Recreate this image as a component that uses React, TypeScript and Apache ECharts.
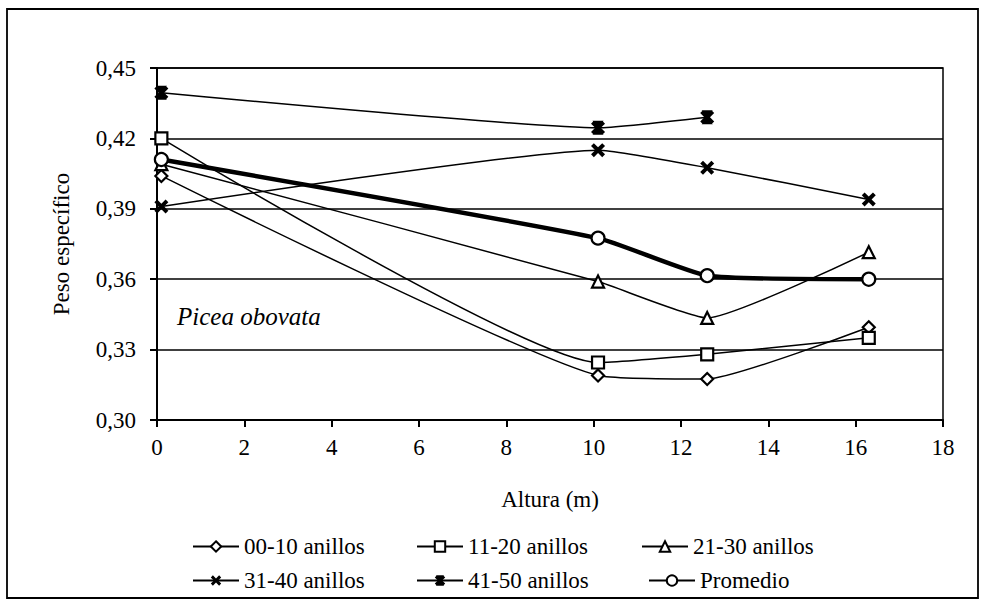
import React, { useEffect, useRef } from "react";
import * as echarts from "echarts";

const alturas = [0.1, 10.1, 12.6, 16.3];
const s0010 = [0.404, 0.319, 0.3175, 0.3395];
const s1120 = [0.42, 0.3245, 0.328, 0.335];
const s2130 = [0.409, 0.359, 0.3435, 0.3715];
const s3140 = [0.391, 0.415, 0.4075, 0.394];
const s4150 = [0.4395, 0.4245, 0.429];
const promedio = [0.411, 0.3775, 0.3615, 0.36];

const names = ["00-10 anillos", "11-20 anillos", "21-30 anillos", "31-40 anillos", "41-50 anillos", "Promedio"];
const yTicks = { min: 0.3, max: 0.45, interval: 0.03 };
const xTicks = { min: 0, max: 18, interval: 2 };

const FONT = "Liberation Serif";
const X_PATH = "path://M0,2L2,0L5,3L8,0L10,2L7,5L10,8L8,10L5,7L2,10L0,8L3,5Z";
const STAR_PATH = "path://M0,2L2,0L5,3L8,0L10,2L7,5L10,8L8,10L5,7L2,10L0,8L3,5Z M1,0L9,0L5,4Z M9,10L1,10L5,6Z";

const pairs = (vals: number[]) => vals.map((v, i) => [alturas[i], v]);

export default function App() {
  const ref = useRef<HTMLDivElement>(null);
  useEffect(() => {
    if (!ref.current) return;
    const chart = echarts.init(ref.current, undefined, { renderer: "svg" });
    const hollow = { color: "#fff", borderColor: "#000", borderWidth: 2.2 };
    const solid = { color: "#000", borderColor: "#000", borderWidth: 0 };
    const mk = (name: string, vals: number[], symbol: string, size: number, item: any, width = 1.5) => ({
      name,
      type: "line",
      data: pairs(vals),
      smooth: 0.15,
      symbol,
      symbolSize: size,
      showAllSymbol: true,
      lineStyle: { color: "#000", width },
      itemStyle: item,
      emphasis: { disabled: true },
    });
    const legendPos = [
      [192, 535],
      [416, 535],
      [641, 535],
      [192, 569],
      [416, 569],
      [648, 569],
    ];
    const txt = { fontFamily: FONT, fontSize: 23, color: "#000" };
    chart.setOption({
      animation: false,
      backgroundColor: "#fff",
      textStyle: { fontFamily: FONT },
      grid: {
        left: 157,
        top: 68,
        right: 43,
        bottom: 193,
        show: true,
        borderColor: "#000",
        borderWidth: 1.5,
        backgroundColor: "transparent",
      },
      xAxis: {
        type: "value",
        min: xTicks.min,
        max: xTicks.max,
        interval: xTicks.interval,
        name: "Altura (m)",
        nameLocation: "middle",
        nameGap: 68,
        nameTextStyle: txt,
        axisLine: { show: true, lineStyle: { color: "#000", width: 2 } },
        axisTick: { show: true, inside: false, length: 7, lineStyle: { color: "#000", width: 2 } },
        axisLabel: { ...txt, margin: 16 },
        splitLine: { show: false },
      },
      yAxis: {
        type: "value",
        min: yTicks.min,
        max: yTicks.max,
        interval: yTicks.interval,
        name: "Peso específico",
        nameLocation: "middle",
        nameRotate: 90,
        nameGap: 84,
        nameTextStyle: txt,
        axisLine: { show: true, lineStyle: { color: "#000", width: 2 } },
        axisTick: { show: true, inside: false, length: 7, lineStyle: { color: "#000", width: 2 } },
        axisLabel: {
          ...txt,
          margin: 21,
          formatter: (v: number) => v.toFixed(2).replace(".", ","),
        },
        splitLine: { show: true, lineStyle: { color: "#000", width: 1.5 } },
      },
      legend: names.map((n, i) => ({
        data: [n],
        left: legendPos[i][0],
        top: legendPos[i][1],
        padding: 0,
        itemWidth: 46,
        itemHeight: 13,
        selectedMode: false,
        textStyle: txt,
      })),
      graphic: [
        {
          type: "rect",
          shape: { x: 7, y: 9, width: 971, height: 589 },
          style: { fill: "none", stroke: "#000", lineWidth: 1.8 },
          silent: true,
        },
        {
          type: "text",
          left: 177,
          top: 304,
          style: {
            text: "Picea obovata",
            fontFamily: FONT,
            fontStyle: "italic",
            fontSize: 25,
            fill: "#000",
          },
        },
      ],
      series: [
        mk(names[0], s0010, "diamond", 12, hollow),
        mk(names[1], s1120, "rect", 12, hollow),
        mk(names[2], s2130, "triangle", 12, hollow),
        mk(names[3], s3140, X_PATH, 14, solid),
        mk(names[4], s4150, STAR_PATH, 14, solid),
        mk(names[5], promedio, "circle", 13, hollow, 4.5),
      ],
    });
    return () => chart.dispose();
  }, []);
  return (
    <div
      ref={ref}
      style={{ position: "fixed", left: 0, top: 0, width: 986, height: 613 }}
    />
  );
}
